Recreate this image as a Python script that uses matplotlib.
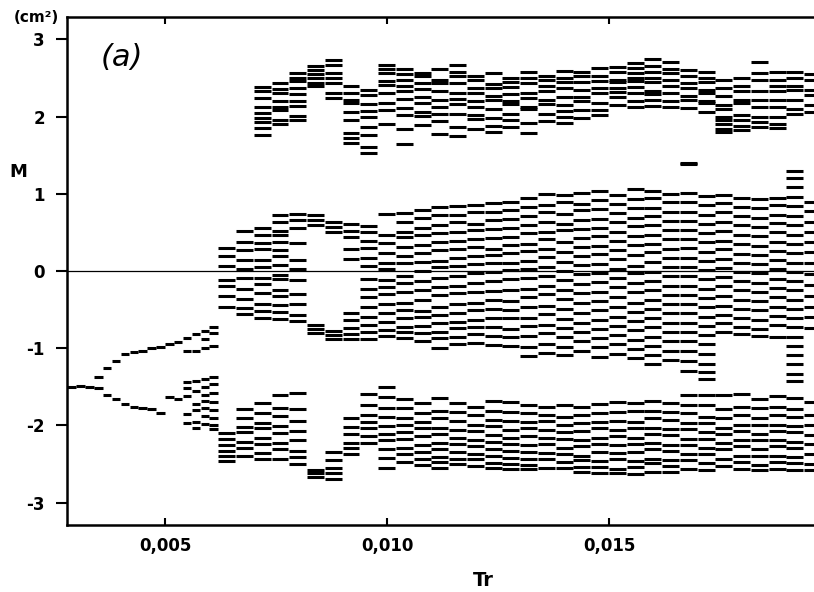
import matplotlib.pyplot as plt
import numpy as np

# Tr column starts (periodic part every 0.0002, chaotic part every 0.0004)
tr_cols = [0.0028, 0.0030, 0.0032, 0.0034, 0.0036, 0.0038, 0.0040, 0.0042,
           0.0044, 0.0046, 0.0048, 0.0050, 0.0052, 0.0054, 0.0056, 0.0058,
           0.0060, 0.0062, 0.0066, 0.0070, 0.0074, 0.0078, 0.0082, 0.0086,
           0.0090, 0.0094, 0.0098, 0.0102, 0.0106, 0.0110, 0.0114, 0.0118,
           0.0122, 0.0126, 0.0130, 0.0134, 0.0138, 0.0142, 0.0146, 0.0150,
           0.0154, 0.0158, 0.0162, 0.0166, 0.0170, 0.0174, 0.0178, 0.0182,
           0.0186, 0.0190, 0.0194]

# M values read per column, band around +2.2
upper_band = [
    [], [], [], [], [], [], [], [], [], [], [], [], [], [], [], [], [],
    [], [],
    [2.38, 2.33, 2.24, 2.12, 2.05, 1.98, 1.93, 1.85, 1.76],
    [2.44, 2.36, 2.31, 2.2, 2.12, 2.08, 1.96, 1.9],
    [2.57, 2.5, 2.46, 2.37, 2.29, 2.2, 2.14, 2.01, 1.95],
    [2.65, 2.6, 2.55, 2.5, 2.44, 2.39],
    [2.73, 2.67, 2.57, 2.5, 2.43, 2.3, 2.24],
    [2.39, 2.31, 2.22, 2.17, 2.06, 1.96, 1.79, 1.72, 1.66],
    [2.34, 2.28, 2.16, 2.07, 1.99, 1.87, 1.76, 1.61, 1.53],
    [2.67, 2.62, 2.57, 2.46, 2.41, 2.31, 2.17, 2.09, 1.91],
    [2.61, 2.55, 2.47, 2.39, 2.33, 2.23, 2.11, 2.02, 1.84, 1.65],
    [2.57, 2.52, 2.44, 2.36, 2.26, 2.18, 2.06, 2.01, 1.89],
    [2.61, 2.48, 2.43, 2.33, 2.21, 2.13, 2.03, 1.94, 1.78],
    [2.67, 2.58, 2.52, 2.44, 2.31, 2.23, 2.16, 2.04, 1.87, 1.75],
    [2.52, 2.47, 2.37, 2.3, 2.2, 2.12, 2.02, 1.97, 1.84],
    [2.56, 2.42, 2.37, 2.27, 2.22, 2.1, 1.98, 1.88, 1.8],
    [2.5, 2.45, 2.38, 2.29, 2.2, 2.16, 2.03, 1.95, 1.87],
    [2.58, 2.5, 2.43, 2.31, 2.24, 2.13, 2.1, 1.92, 1.79],
    [2.53, 2.47, 2.39, 2.33, 2.22, 2.16, 2.04, 1.94],
    [2.59, 2.5, 2.45, 2.37, 2.26, 2.15, 2.07, 1.99, 1.92],
    [2.58, 2.52, 2.45, 2.35, 2.25, 2.2, 2.08, 1.98],
    [2.63, 2.53, 2.46, 2.37, 2.3, 2.18, 2.08, 2.02],
    [2.64, 2.58, 2.48, 2.45, 2.37, 2.32, 2.25, 2.15],
    [2.7, 2.63, 2.57, 2.5, 2.46, 2.38, 2.3, 2.2, 2.13],
    [2.74, 2.66, 2.58, 2.5, 2.45, 2.33, 2.29, 2.22, 2.14],
    [2.71, 2.62, 2.57, 2.48, 2.4, 2.3, 2.2, 2.13],
    [2.6, 2.53, 2.44, 2.37, 2.27, 2.22, 2.11],
    [2.58, 2.5, 2.45, 2.35, 2.3, 2.2, 2.17, 2.06],
    [2.48, 2.37, 2.27, 2.15, 2.1, 2.0, 1.95, 1.9, 1.84, 1.8],
    [2.5, 2.4, 2.33, 2.22, 2.17, 2.02, 1.95, 1.88, 1.83],
    [2.71, 2.56, 2.47, 2.33, 2.22, 2.12, 2.0, 1.93, 1.86],
    [2.58, 2.47, 2.4, 2.33, 2.22, 2.13, 1.99, 1.9, 1.85],
    [2.58, 2.5, 2.4, 2.35, 2.21, 2.1, 2.03],
    [2.55, 2.47, 2.35, 2.28, 2.15, 2.06],
]

# band around 0 (left part: upper branch of the period-2 orbit)
middle_band = [
    [], [], [], [-1.37], [-1.25], [-1.17], [-1.08], [-1.05], [-1.03],
    [-1.0], [-0.98], [-0.95], [-0.92], [-0.87, -1.04], [-0.82, -1.03],
    [-0.78, -0.88, -1.0], [-0.73, -0.8, -0.97],
    [0.3, 0.2, 0.07, -0.12, -0.2, -0.33, -0.46],
    [0.52, 0.37, 0.27, 0.14, 0.03, -0.09, -0.23, -0.36, -0.48, -0.56],
    [0.56, 0.46, 0.36, 0.28, 0.14, 0.05, -0.09, -0.17, -0.29, -0.43, -0.52, -0.61],
    [0.73, 0.64, 0.52, 0.47, 0.38, 0.27, 0.19, 0.08, -0.05, -0.11, -0.24, -0.33, -0.44, -0.53, -0.62],
    [0.74, 0.66, 0.56, 0.36, 0.14, 0.03, -0.12, -0.3, -0.43, -0.57, -0.65],
    [0.73, 0.66, 0.6, -0.7, -0.75, -0.8],
    [0.64, 0.57, 0.5, -0.78, -0.83, -0.88],
    [0.61, 0.52, 0.44, 0.29, 0.16, -0.55, -0.63, -0.74, -0.81, -0.88],
    [0.58, 0.5, 0.39, 0.3, 0.17, 0.06, -0.1, -0.23, -0.34, -0.47, -0.6, -0.7, -0.79, -0.88],
    [0.74, 0.46, 0.36, 0.23, 0.11, 0.02, -0.12, -0.21, -0.3, -0.43, -0.54, -0.66, -0.76, -0.84],
    [0.75, 0.63, 0.51, 0.44, 0.31, 0.19, 0.1, -0.06, -0.16, -0.27, -0.41, -0.5, -0.61, -0.72, -0.79, -0.87],
    [0.79, 0.69, 0.56, 0.47, 0.34, 0.23, 0.12, 0.0, -0.13, -0.24, -0.37, -0.52, -0.59, -0.71, -0.8, -0.91],
    [0.83, 0.72, 0.59, 0.49, 0.37, 0.27, 0.13, 0.05, -0.09, -0.21, -0.31, -0.46, -0.57, -0.67, -0.79, -0.87, -1.0],
    [0.84, 0.73, 0.63, 0.51, 0.39, 0.28, 0.17, 0.07, -0.06, -0.19, -0.29, -0.43, -0.54, -0.66, -0.74, -0.86, -0.94],
    [0.86, 0.76, 0.61, 0.53, 0.41, 0.31, 0.19, 0.09, -0.03, -0.16, -0.27, -0.41, -0.51, -0.63, -0.73, -0.81, -0.93],
    [0.88, 0.77, 0.66, 0.54, 0.43, 0.29, 0.21, 0.11, -0.01, -0.13, -0.26, -0.37, -0.49, -0.61, -0.73, -0.84, -0.96],
    [0.9, 0.79, 0.67, 0.56, 0.44, 0.34, 0.23, 0.11, 0.01, -0.11, -0.24, -0.39, -0.51, -0.61, -0.75, -0.86, -0.97],
    [0.95, 0.83, 0.71, 0.59, 0.49, 0.35, 0.26, 0.13, 0.03, -0.09, -0.23, -0.34, -0.47, -0.61, -0.71, -0.84, -0.99, -1.1],
    [1.0, 0.86, 0.77, 0.64, 0.5, 0.42, 0.28, 0.18, 0.05, -0.06, -0.2, -0.3, -0.45, -0.56, -0.7, -0.8, -0.95, -1.06],
    [0.99, 0.9, 0.74, 0.61, 0.53, 0.37, 0.24, 0.12, 0.0, -0.12, -0.25, -0.36, -0.49, -0.62, -0.74, -0.86, -0.98, -1.09],
    [1.01, 0.87, 0.79, 0.66, 0.55, 0.43, 0.31, 0.19, 0.08, -0.04, -0.17, -0.28, -0.42, -0.54, -0.67, -0.79, -0.91, -1.04],
    [1.03, 0.92, 0.8, 0.68, 0.56, 0.45, 0.33, 0.22, 0.09, -0.03, -0.14, -0.27, -0.39, -0.51, -0.63, -0.75, -0.87, -0.99, -1.11],
    [0.99, 0.87, 0.75, 0.63, 0.51, 0.39, 0.27, 0.15, 0.02, -0.09, -0.21, -0.34, -0.46, -0.59, -0.71, -0.83, -0.95, -1.07],
    [1.06, 0.93, 0.82, 0.69, 0.58, 0.45, 0.34, 0.21, 0.07, -0.03, -0.15, -0.27, -0.41, -0.53, -0.65, -0.77, -0.89, -1.01, -1.13],
    [1.04, 0.95, 0.81, 0.71, 0.59, 0.47, 0.35, 0.24, 0.12, -0.01, -0.13, -0.25, -0.37, -0.49, -0.61, -0.73, -0.85, -0.97, -1.09, -1.21],
    [1.0, 0.89, 0.77, 0.65, 0.53, 0.41, 0.28, 0.17, 0.05, -0.07, -0.19, -0.31, -0.43, -0.55, -0.67, -0.79, -0.91, -1.03, -1.15],
    [1.4, 1.38, 1.01, 0.89, 0.77, 0.65, 0.53, 0.41, 0.3, 0.17, 0.05, -0.07, -0.19, -0.31, -0.43, -0.55, -0.67, -0.79, -0.91, -1.03, -1.17, -1.29],
    [0.97, 0.85, 0.73, 0.61, 0.49, 0.37, 0.25, 0.13, 0.01, -0.11, -0.23, -0.35, -0.47, -0.59, -0.71, -0.83, -0.95, -1.07, -1.21, -1.31, -1.4],
    [0.99, 0.88, 0.76, 0.63, 0.52, 0.39, 0.28, 0.16, 0.04, -0.08, -0.2, -0.33, -0.45, -0.57, -0.68, -0.79],
    [0.95, 0.83, 0.71, 0.59, 0.47, 0.35, 0.22, 0.11, -0.01, -0.13, -0.25, -0.37, -0.49, -0.61, -0.73, -0.82],
    [0.93, 0.81, 0.69, 0.57, 0.45, 0.33, 0.21, 0.09, -0.03, -0.15, -0.27, -0.39, -0.51, -0.63, -0.75, -0.84],
    [0.94, 0.85, 0.73, 0.62, 0.5, 0.38, 0.26, 0.14, 0.02, -0.1, -0.22, -0.34, -0.46, -0.58, -0.7, -0.86],
    [1.3, 1.21, 1.09, 0.96, 0.84, 0.71, 0.59, 0.47, 0.35, 0.23, 0.11, -0.01, -0.13, -0.25, -0.37, -0.49, -0.61, -0.73, -0.85, -0.97, -1.09, -1.21, -1.33, -1.43],
    [0.9, 0.78, 0.64, 0.5, 0.38, 0.24, 0.1, -0.04, -0.18, -0.32, -0.46, -0.6, -0.74],
]

# band around -2.2 (left part: lower branch of the period-2 orbit)
lower_band = [
    [-1.5], [-1.49], [-1.5], [-1.52], [-1.6], [-1.66], [-1.72], [-1.76],
    [-1.78], [-1.79], [-1.84], [-1.63], [-1.66],
    [-1.44, -1.52, -1.62, -1.85, -1.97],
    [-1.42, -1.55, -1.72, -1.8, -1.95, -2.03],
    [-1.4, -1.5, -1.6, -1.68, -1.78, -1.88, -1.98],
    [-1.37, -1.47, -1.58, -1.7, -1.8, -1.9, -2.0, -2.05],
    [-2.1, -2.17, -2.26, -2.33, -2.4, -2.46],
    [-1.79, -1.91, -2.02, -2.09, -2.21, -2.29, -2.39],
    [-1.71, -1.84, -1.97, -2.04, -2.16, -2.24, -2.36, -2.43],
    [-1.6, -1.77, -1.88, -2.01, -2.1, -2.23, -2.31, -2.43],
    [-1.58, -1.79, -1.94, -2.07, -2.19, -2.33, -2.41, -2.5],
    [-2.58, -2.62, -2.67],
    [-2.35, -2.45, -2.55, -2.62, -2.7],
    [-1.91, -2.02, -2.11, -2.23, -2.29, -2.37],
    [-1.59, -1.74, -1.86, -1.96, -2.04, -2.14, -2.23],
    [-1.5, -1.63, -1.77, -1.89, -2.01, -2.11, -2.19, -2.31, -2.42, -2.55],
    [-1.66, -1.77, -1.91, -1.99, -2.09, -2.17, -2.29, -2.37, -2.48],
    [-1.71, -1.84, -1.96, -2.04, -2.14, -2.26, -2.34, -2.43, -2.51],
    [-1.64, -1.81, -1.91, -2.03, -2.11, -2.23, -2.31, -2.41, -2.47, -2.55],
    [-1.71, -1.83, -1.94, -2.06, -2.16, -2.24, -2.34, -2.43, -2.5],
    [-1.76, -1.87, -1.99, -2.07, -2.19, -2.27, -2.37, -2.44, -2.53],
    [-1.68, -1.81, -1.93, -2.01, -2.13, -2.21, -2.31, -2.39, -2.49, -2.55],
    [-1.7, -1.83, -1.94, -2.06, -2.16, -2.24, -2.33, -2.42, -2.5, -2.57],
    [-1.73, -1.84, -1.96, -2.04, -2.14, -2.26, -2.34, -2.43, -2.51, -2.57],
    [-1.76, -1.86, -1.94, -2.06, -2.16, -2.24, -2.36, -2.44, -2.55],
    [-1.74, -1.89, -1.99, -2.09, -2.17, -2.29, -2.37, -2.47, -2.55],
    [-1.76, -1.87, -1.97, -2.07, -2.19, -2.27, -2.39, -2.45, -2.54, -2.6],
    [-1.72, -1.84, -1.96, -2.04, -2.16, -2.24, -2.34, -2.46, -2.54, -2.61],
    [-1.7, -1.83, -1.94, -2.06, -2.14, -2.26, -2.36, -2.44, -2.56, -2.62],
    [-1.71, -1.81, -1.96, -2.04, -2.16, -2.24, -2.34, -2.46, -2.54, -2.63],
    [-1.68, -1.81, -1.91, -2.03, -2.11, -2.23, -2.31, -2.43, -2.49, -2.6],
    [-1.71, -1.83, -1.93, -2.05, -2.13, -2.25, -2.33, -2.45, -2.53, -2.6],
    [-1.6, -1.73, -1.84, -1.97, -2.05, -2.17, -2.25, -2.37, -2.45, -2.56],
    [-1.61, -1.74, -1.89, -1.97, -2.09, -2.17, -2.29, -2.37, -2.49, -2.58],
    [-1.6, -1.79, -1.91, -2.03, -2.11, -2.23, -2.31, -2.43, -2.52],
    [-1.59, -1.76, -1.87, -1.99, -2.07, -2.19, -2.27, -2.39, -2.47, -2.56],
    [-1.66, -1.77, -1.91, -1.99, -2.11, -2.19, -2.31, -2.39, -2.51, -2.58],
    [-1.62, -1.76, -1.87, -1.99, -2.07, -2.19, -2.27, -2.39, -2.47, -2.56],
    [-1.64, -1.79, -1.89, -2.01, -2.09, -2.21, -2.29, -2.41, -2.49, -2.58],
    [-1.7, -1.86, -1.99, -2.13, -2.24, -2.37, -2.5, -2.58],
]

x_ticks = [0.005, 0.010, 0.015]
x_labels = ["0,005", "0,010", "0,015"]
y_ticks = [3, 2, 1, 0, -1, -2, -3]
y_labels = ["3", "2", "1", "0", "-1", "-2", "-3"]

plt.rcParams['font.family'] = ['DejaVu Sans']

W, H = 814, 592
fig = plt.figure(figsize=(W / 100, H / 100), dpi=100)
ax = fig.add_axes([67 / W, 67 / H, 747 / W, 508 / H])

tr = np.array(tr_cols)
widths = np.diff(tr, append=2 * tr[-1] - tr[-2])

for band in (upper_band, middle_band, lower_band):
    for t, w, ms in zip(tr, widths, band):
        if ms:
            ax.hlines(ms, t, t + w * 0.95, color='black', lw=2.2)

ax.axhline(0, color='black', lw=0.9)

ax.set_xlim(0.00279, 0.01962)
ax.set_ylim(-3.29, 3.29)

ax.spines['right'].set_visible(False)
for s in ('left', 'bottom', 'top'):
    ax.spines[s].set_linewidth(1.8)

ax.set_xticks(x_ticks)
ax.set_xticklabels(x_labels, fontweight='bold', fontsize=12)
ax.set_yticks(y_ticks)
ax.set_yticklabels(y_labels, fontweight='bold', fontsize=12)
ax.tick_params(axis='x', direction='in', length=5, width=1.5, top=True, pad=9)
ax.tick_params(axis='y', direction='out', length=8, width=1.5, pad=8)

fig.text(14 / W, 1 - 17 / H, "(cm²)", fontweight='bold', fontsize=11,
         ha='left', va='center')
fig.text(18 / W, 1 - 172 / H, "M", fontweight='bold', fontsize=13,
         ha='center', va='center')
fig.text(483 / W, 1 - 580 / H, "Tr", fontweight='bold', fontsize=14,
         ha='center', va='center')
fig.text(122 / W, 1 - 58 / H, "(a)", style='italic', fontsize=22,
         ha='center', va='center')

fig.savefig("out.png", dpi=100)
